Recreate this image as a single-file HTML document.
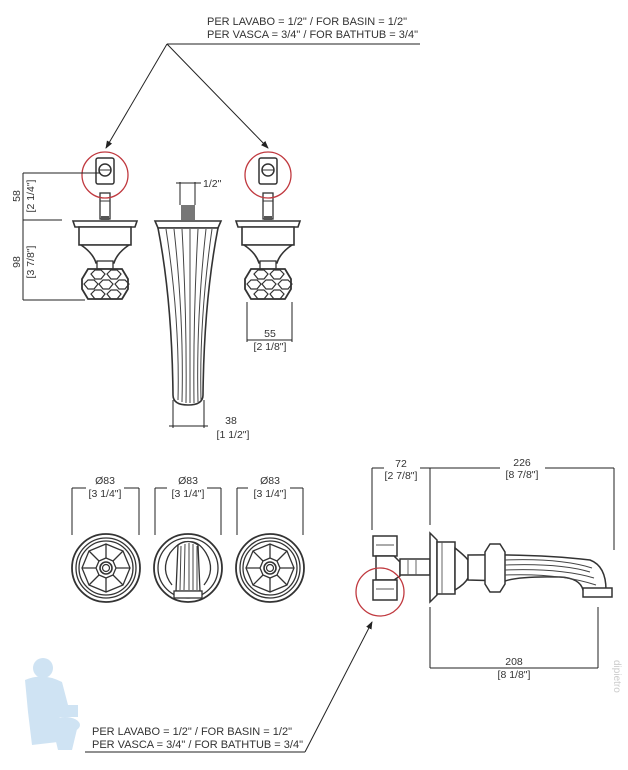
<!DOCTYPE html>
<html><head><meta charset="utf-8"><style>
html,body{margin:0;padding:0;background:#fff}
svg{display:block}
text{font-family:"Liberation Sans",sans-serif;fill:#333}
</style></head><body>
<svg width="628" height="770" viewBox="0 0 628 770" xmlns="http://www.w3.org/2000/svg">
<defs>
<marker id="ar" markerWidth="8" markerHeight="8" refX="7" refY="4" orient="auto" markerUnits="userSpaceOnUse"><path d="M0,1 L8,4 L0,7 z" fill="#222"/></marker>
<g id="handle">
  <rect x="-9" y="-17" width="18" height="26" rx="2" fill="#fff" stroke="#333" stroke-width="1.5"/>
  <circle cx="0" cy="-5" r="6" fill="#fff" stroke="#333" stroke-width="1.5"/>
  <line x1="-6" y1="-5" x2="6" y2="-5" stroke="#333"/>
  <rect x="-5" y="18" width="10" height="26" fill="#fff" stroke="#333" stroke-width="1.3"/>
  <line x1="-5" y1="26" x2="5" y2="26" stroke="#333"/>
  <rect x="-4" y="41" width="8" height="4" fill="#555"/>
  <path d="M-32,46 L32,46 L30,52 L-30,52 Z" fill="#fff" stroke="#333" stroke-width="1.6"/>
  <path d="M-26,52 L26,52 L26,70 L-26,70 Z" fill="#fff" stroke="#333" stroke-width="1.6"/>
  <path d="M-24,70 L24,70 Q12,78 9,88 L-9,88 Q-12,78 -24,70Z" fill="#fff" stroke="#333" stroke-width="1.6"/>
  <rect x="-8" y="86" width="16" height="8" fill="#fff" stroke="#333" stroke-width="1.3"/>
  <path d="M-17,94 L17,94 L23,104 L23,114 L17,124 L-17,124 L-23,114 L-23,104 Z" fill="#fff" stroke="#333" stroke-width="1.8"/>
  <path d="M-14,99 l4,-4 h6 l4,4 l-4,5 h-6z M2,99 l4,-4 h6 l4,4 l-4,5 h-6z M-6,109 l4,-4 h6 l4,4 l-4,5 h-6z M-21,109 l4,-4 h6 l4,4 l-4,5 h-6z M10,109 l4,-4 h6 l4,4 l-4,5 h-6z M-14,119 l4,-4 h6 l4,4 l-4,5 h-6z M2,119 l4,-4 h6 l4,4 l-4,5 h-6z" fill="none" stroke="#333" stroke-width="1.2"/>
</g>
<g id="rosette">
  <circle r="34" fill="#fff" stroke="#333" stroke-width="1.8"/>
  <circle r="30" fill="none" stroke="#333" stroke-width="1.3"/>
  <circle r="27" fill="none" stroke="#333" stroke-width="1.3"/>
  <path d="M0,-24 L17,-17 L24,0 L17,17 L0,24 L-17,17 L-24,0 L-17,-17 Z" fill="none" stroke="#333" stroke-width="1.3"/>
  <path d="M0,-24 L0,-10 M17,-17 L7,-7 M24,0 L10,0 M17,17 L7,7 M0,24 L0,10 M-17,17 L-7,7 M-24,0 L-10,0 M-17,-17 L-7,-7" stroke="#333" stroke-width="1.3"/>
  <path d="M0,-10 L7,-7 L10,0 L7,7 L0,10 L-7,7 L-10,0 L-7,-7Z" fill="none" stroke="#333" stroke-width="1.3"/>
  <circle r="6" fill="none" stroke="#333" stroke-width="1.6"/>
  <circle r="3.5" fill="none" stroke="#333" stroke-width="1.2"/>
</g>
</defs>

<text x="207" y="25" font-size="11">PER LAVABO = 1/2" / FOR BASIN = 1/2"</text>
<text x="207" y="38" font-size="11">PER VASCA = 3/4" / FOR BATHTUB = 3/4"</text>
<line x1="167" y1="44" x2="420" y2="44" stroke="#222"/>
<line x1="167" y1="44" x2="106" y2="148" stroke="#222" marker-end="url(#ar)"/>
<line x1="167" y1="44" x2="268" y2="148" stroke="#222" marker-end="url(#ar)"/>

<use href="#handle" x="105" y="175"/>
<use href="#handle" x="268" y="175"/>
<circle cx="105" cy="175" r="23" fill="none" stroke="#c0393f" stroke-width="1.3"/>
<circle cx="268" cy="175" r="23" fill="none" stroke="#c0393f" stroke-width="1.3"/>

<rect x="181" y="205" width="14" height="15" fill="#777"/>
<path d="M155,221 L221,221 L218,228 L158,228Z" fill="#fff" stroke="#333" stroke-width="1.6"/>
<path d="M158,228 L218,228 Q204,300 203,395 Q203,405 188,405 Q173,405 173,395 Q172,300 158,228Z" fill="#fff" stroke="#333" stroke-width="1.6"/>
<path d="M166,229 Q180,320 178,400 M174,229 Q184,320 182,402 M182,229 Q187,320 186,403 M190,229 Q190,320 190,403 M198,229 Q193,320 194,403 M206,229 Q196,320 198,402 M212,229 Q199,320 201,400" fill="none" stroke="#444" stroke-width="1"/>

<g stroke="#222" stroke-width="1" fill="none">
  <line x1="23" y1="173" x2="100" y2="173"/>
  <line x1="23" y1="173" x2="23" y2="300"/>
  <line x1="23" y1="220" x2="62" y2="220"/>
  <line x1="23" y1="300" x2="85" y2="300"/>
  <line x1="180" y1="182" x2="180" y2="205"/><line x1="195" y1="182" x2="195" y2="205"/>
  <line x1="176" y1="183" x2="201" y2="183"/>
  <line x1="247" y1="302" x2="247" y2="342"/><line x1="292" y1="302" x2="292" y2="342"/>
  <line x1="247" y1="340" x2="292" y2="340"/>
  <line x1="173" y1="400" x2="173" y2="428"/><line x1="204" y1="400" x2="204" y2="428"/>
  <line x1="169" y1="426" x2="208" y2="426"/>
</g>
<text font-size="10.5" transform="translate(20,196) rotate(-90)" text-anchor="middle">58</text>
<text font-size="10.5" transform="translate(34,196) rotate(-90)" text-anchor="middle">[2 1/4"]</text>
<text font-size="10.5" transform="translate(20,262) rotate(-90)" text-anchor="middle">98</text>
<text font-size="10.5" transform="translate(34,262) rotate(-90)" text-anchor="middle">[3 7/8"]</text>
<text x="203" y="187" font-size="10.5">1/2"</text>
<text x="270" y="337" font-size="10.5" text-anchor="middle">55</text>
<text x="270" y="350" font-size="10.5" text-anchor="middle">[2 1/8"]</text>
<text x="231" y="424" font-size="10.5" text-anchor="middle">38</text>
<text x="233" y="438" font-size="10.5" text-anchor="middle">[1 1/2"]</text>

<use href="#rosette" x="106" y="568"/>
<use href="#rosette" x="270" y="568"/>
<circle cx="188" cy="568" r="34" fill="#fff" stroke="#333" stroke-width="1.8"/>
<circle cx="188" cy="568" r="30" fill="none" stroke="#333" stroke-width="1.3"/>
<path d="M172,585 Q160,570 170,553 Q180,540 188,542 Q198,540 206,553 Q216,570 204,585" fill="none" stroke="#333" stroke-width="1.3"/>
<path d="M178,545 L176,591 L200,591 L198,545 Q188,538 178,545Z" fill="#fff" stroke="#333" stroke-width="1.3"/>
<path d="M181,546 L180,590 M185,544 L184,590 M189,543 L189,590 M193,544 L193,590 M197,546 L197,590" stroke="#444" stroke-width="1"/>
<rect x="174" y="591" width="28" height="7" fill="#fff" stroke="#333" stroke-width="1.3"/>
<g stroke="#222" fill="none">
  <line x1="72" y1="488" x2="72" y2="535"/><line x1="139" y1="488" x2="139" y2="535"/>
  <line x1="72" y1="488" x2="86" y2="488"/><line x1="124" y1="488" x2="139" y2="488"/>
  <line x1="155" y1="488" x2="155" y2="535"/><line x1="221" y1="488" x2="221" y2="535"/>
  <line x1="155" y1="488" x2="167" y2="488"/><line x1="207" y1="488" x2="221" y2="488"/>
  <line x1="237" y1="488" x2="237" y2="535"/><line x1="303" y1="488" x2="303" y2="535"/>
  <line x1="237" y1="488" x2="248" y2="488"/><line x1="290" y1="488" x2="303" y2="488"/>
</g>
<text x="105" y="484" font-size="10.5" text-anchor="middle">Ø83</text>
<text x="105" y="497" font-size="10.5" text-anchor="middle">[3 1/4"]</text>
<text x="188" y="484" font-size="10.5" text-anchor="middle">Ø83</text>
<text x="188" y="497" font-size="10.5" text-anchor="middle">[3 1/4"]</text>
<text x="270" y="484" font-size="10.5" text-anchor="middle">Ø83</text>
<text x="270" y="497" font-size="10.5" text-anchor="middle">[3 1/4"]</text>

<g stroke="#333" stroke-width="1.5" fill="#fff">
  <rect x="373" y="536" width="24" height="20"/>
  <path d="M376,556 L394,556 L400,562 L400,576 L394,580 L376,580Z"/>
  <rect x="373" y="580" width="24" height="20"/>
  <rect x="400" y="559" width="30" height="16"/>
  <path d="M430,533 L437,540 L437,595 L430,602Z"/>
  <rect x="437" y="542" width="18" height="52"/>
  <path d="M455,548 Q465,556 468,560 L468,578 Q465,584 455,590Z"/>
  <path d="M468,555 Q540,554 590,560 Q606,566 606,590 L583,590 Q580,578 560,577 Q520,576 505,581 L468,580Z"/>
  <path d="M490,544 L500,544 L505,552 L505,584 L500,592 L490,592 L485,584 L485,552Z"/>
  <rect x="583" y="588" width="29" height="9"/>
</g>
<path d="M505,560 Q560,558 592,568 M505,565 Q560,563 590,572 M505,570 Q560,568 594,578 M505,575 Q560,573 596,585" fill="none" stroke="#444" stroke-width="1"/>
<path d="M376,545 h18 M376,589 h18 M408,560 v15 M416,560 v15 M442,542 v52" stroke="#555" stroke-width="0.9"/>
<circle cx="380" cy="592" r="24" fill="none" stroke="#c0393f" stroke-width="1.3"/>
<g stroke="#222" fill="none">
  <line x1="372" y1="468" x2="372" y2="530"/><line x1="430" y1="468" x2="430" y2="525"/>
  <line x1="372" y1="468" x2="384" y2="468"/><line x1="420" y1="468" x2="500" y2="468"/>
  <line x1="545" y1="468" x2="614" y2="468"/><line x1="614" y1="468" x2="614" y2="550"/>
  <line x1="430" y1="607" x2="430" y2="668"/><line x1="598" y1="607" x2="598" y2="668"/>
  <line x1="430" y1="668" x2="598" y2="668"/>
  <line x1="305" y1="752" x2="372" y2="622" marker-end="url(#ar)"/>
</g>
<text x="401" y="467" font-size="10.5" text-anchor="middle">72</text>
<text x="401" y="479" font-size="10.5" text-anchor="middle">[2 7/8"]</text>
<text x="522" y="466" font-size="10.5" text-anchor="middle">226</text>
<text x="522" y="478" font-size="10.5" text-anchor="middle">[8 7/8"]</text>
<text x="514" y="665" font-size="10.5" text-anchor="middle">208</text>
<text x="514" y="678" font-size="10.5" text-anchor="middle">[8 1/8"]</text>

<g fill="#cfe3f3">
  <circle cx="43" cy="668" r="10"/>
  <path d="M25,680 Q43,672 62,682 L68,705 L60,712 L58,742 L32,745 L28,712 Z"/>
  <path d="M48,705 h30 v12 h-30z"/>
  <ellipse cx="65" cy="725" rx="15" ry="8"/>
  <path d="M52,725 h26 l-6,25 h-14z"/>
</g>
<text font-size="10" transform="translate(614,660) rotate(90)" style="fill:#ccc">dipietro</text>

<text x="92" y="735" font-size="11">PER LAVABO = 1/2" / FOR BASIN = 1/2"</text>
<text x="92" y="748" font-size="11">PER VASCA = 3/4" / FOR BATHTUB = 3/4"</text>
<line x1="85" y1="752" x2="305" y2="752" stroke="#222"/>
</svg>
</body></html>
